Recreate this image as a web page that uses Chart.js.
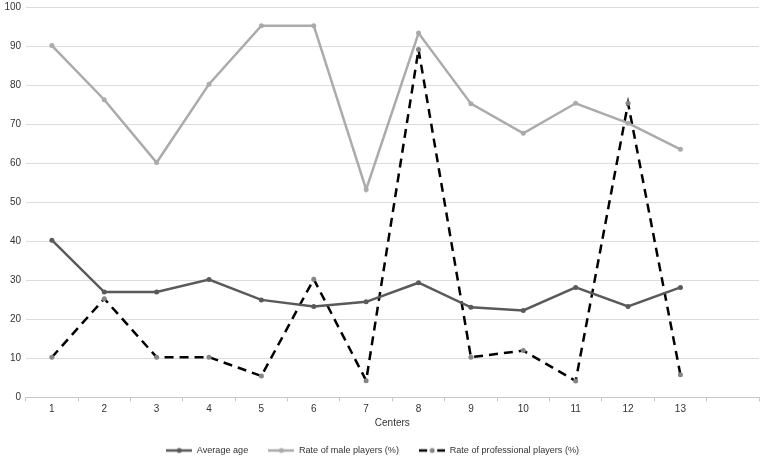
<!DOCTYPE html>
<html>
<head>
<meta charset="utf-8">
<script src="https://cdn.jsdelivr.net/npm/chart.js@4/dist/chart.umd.min.js"></script>
<style>
  html, body { margin: 0; padding: 0; background: #fff; overflow: hidden; }
  /* a little taller than the window so the legend lands where the original has it */
  #wrap { width: 763px; height: 465px; }
</style>
</head>
<body>
<div id="wrap"><canvas id="chart"></canvas></div>
<script>
// categories (last slot is empty on the reference axis)
const centers = ['1', '2', '3', '4', '5', '6', '7', '8', '9', '10', '11', '12', '13', ''];
const averageAge = [40.3, 27, 27, 30.2, 25, 23.3, 24.5, 29.4, 23.1, 22.3, 28.2, 23.3, 28.2];
const maleRate = [90.2, 76.3, 60.2, 80.3, 95.3, 95.3, 53.3, 93.4, 75.3, 67.7, 75.4, 70.3, 63.6];
const proRate = [10.3, 25.3, 10.3, 10.3, 5.5, 30.3, 4.3, 89.2, 10.3, 12, 4.2, 75.4, 5.8];
const yTicks = [0, 10, 20, 30, 40, 50, 60, 70, 80, 90, 100];

const AGE_COL = '#5a5a5a';
const MALE_COL = '#ababab';
const PRO_COL = '#000000';
const PRO_MARK = '#858585';

// little legend icons: line with a dot in the middle
function legendIcon(lineCol, dotCol, dashed) {
    const c = document.createElement('canvas');
    c.width = 26;
    c.height = 8;
    const g = c.getContext('2d');
    g.strokeStyle = lineCol;
    g.lineWidth = 2.5;
    g.beginPath();
    if (dashed) {
        g.moveTo(0, 4); g.lineTo(8, 4);
        g.moveTo(18, 4); g.lineTo(26, 4);
    } else {
        g.moveTo(0, 4); g.lineTo(26, 4);
    }
    g.stroke();
    g.fillStyle = dotCol;
    g.beginPath();
    g.arc(13, 4, 2.5, 0, Math.PI * 2);
    g.fill();
    return c;
}
const icons = [
    legendIcon(AGE_COL, AGE_COL),
    legendIcon(MALE_COL, MALE_COL),
    legendIcon(PRO_COL, PRO_MARK, true)
];
// trailing gap after each legend text, as in the original
const legendGap = '      ';

Chart.defaults.font.family = '"Liberation Sans", Arial, sans-serif';
Chart.defaults.font.size = 10;
Chart.defaults.color = '#333333';

new Chart(document.getElementById('chart'), {
    type: 'line',
    data: {
        labels: centers,
        datasets: [
            {
                label: 'Average age',
                data: averageAge,
                borderColor: AGE_COL,
                backgroundColor: AGE_COL,
                borderWidth: 2.5,
                pointRadius: 2.5,
                pointBorderWidth: 0,
                tension: 0
            },
            {
                label: 'Rate of male players (%)',
                data: maleRate,
                borderColor: MALE_COL,
                backgroundColor: MALE_COL,
                borderWidth: 2.5,
                pointRadius: 2.5,
                pointBorderWidth: 0,
                tension: 0
            },
            {
                label: 'Rate of professional players (%)',
                data: proRate,
                borderColor: PRO_COL,
                backgroundColor: PRO_MARK,
                borderWidth: 2.5,
                borderDash: [9, 6],
                pointRadius: 2.5,
                pointBorderWidth: 0,
                tension: 0
            }
        ]
    },
    options: {
        responsive: true,
        maintainAspectRatio: false,
        animation: false,
        layout: { padding: { left: 0, right: 2.5, top: 7.3, bottom: 0 } },
        scales: {
            x: {
                offset: true,
                grid: {
                    offset: true,
                    drawOnChartArea: false,
                    tickLength: 4,
                    color: '#c8c8c8'
                },
                border: { color: '#c8c8c8', width: 1 },
                ticks: { padding: 2, maxRotation: 0, autoSkip: false },
                title: {
                    display: true,
                    text: 'Centers',
                    padding: { top: 0, bottom: 11.5 }
                }
            },
            y: {
                min: 0,
                max: 100,
                afterBuildTicks: axis => { axis.ticks = yTicks.map(v => ({ value: v })); },
                grid: { color: '#dcdcdc', drawTicks: false },
                border: { display: false },
                // tiny line height keeps the top overhang small
                ticks: { padding: 4.5, font: { lineHeight: 0.1 } }
            }
        },
        plugins: {
            legend: {
                position: 'bottom',
                labels: {
                    usePointStyle: true,
                    pointStyleWidth: 26,
                    boxHeight: 8,
                    padding: 5,
                    font: { size: 9.1 },
                    generateLabels: chart =>
                        Chart.defaults.plugins.legend.labels.generateLabels(chart)
                            .map((item, i) => ({ ...item, text: item.text + legendGap, pointStyle: icons[i] }))
                }
            },
            tooltip: { enabled: false }
        }
    }
});
</script>
</body>
</html>
